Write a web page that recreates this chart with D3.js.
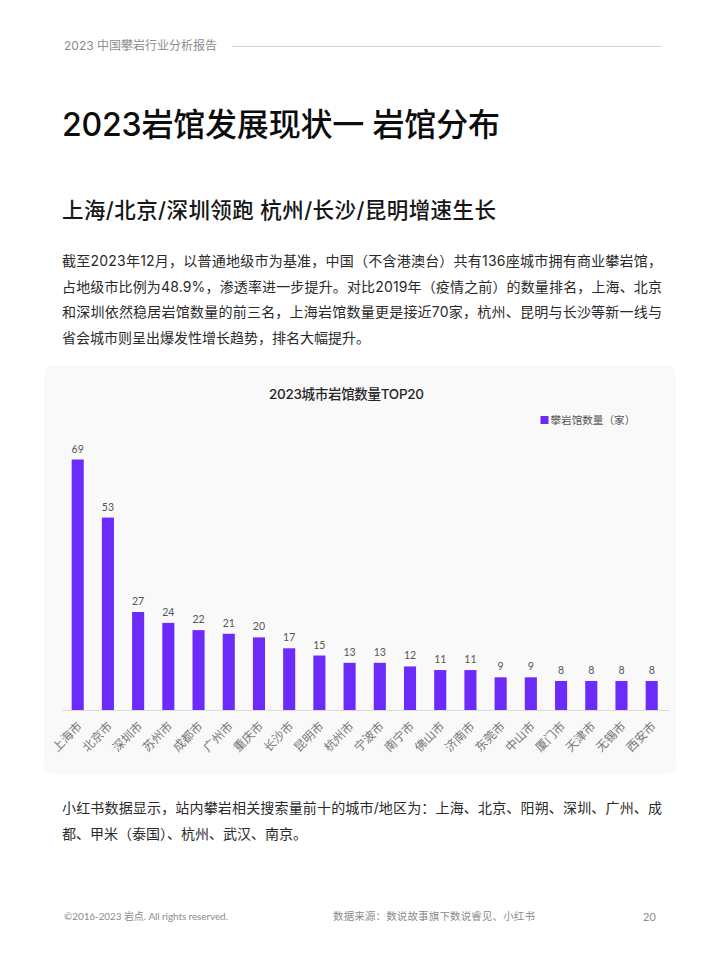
<!DOCTYPE html>
<html>
<head>
<meta charset="utf-8">
<script src="https://cdn.jsdelivr.net/npm/d3@7"></script>
<style>
html, body { margin: 0; padding: 0; background: #fff; }
svg { display: block; }
text { font-family: Inter, "Noto Sans CJK SC", sans-serif; }
</style>
</head>
<body>
<div id="chart"></div>
<script>
var cities = ["上海市","北京市","深圳市","苏州市","成都市","广州市","重庆市","长沙市","昆明市","杭州市",
	"宁波市","南宁市","佛山市","济南市","东莞市","中山市","厦门市","天津市","无锡市","西安市"];
var gym_counts = [69,53,27,24,22,21,20,17,15,13,13,12,11,11,9,9,8,8,8,8];

var header_text = "2023 中国攀岩行业分析报告";
var page_title = "2023岩馆发展现状一 岩馆分布";
var page_subtitle = "上海/北京/深圳领跑 杭州/长沙/昆明增速生长";
var body_lines = [
	"截至2023年12月，以普通地级市为基准，中国（不含港澳台）共有136座城市拥有商业攀岩馆，",
	"占地级市比例为48.9%，渗透率进一步提升。对比2019年（疫情之前）的数量排名，上海、北京",
	"和深圳依然稳居岩馆数量的前三名，上海岩馆数量更是接近70家，杭州、昆明与长沙等新一线与",
	"省会城市则呈出爆发性增长趋势，排名大幅提升。"
];
var note_lines = [
	"小红书数据显示，站内攀岩相关搜索量前十的城市/地区为：上海、北京、阳朔、深圳、广州、成",
	"都、甲米（泰国）、杭州、武汉、南京。"
];
var chart_title = "2023城市岩馆数量TOP20";
var legend_label = "攀岩馆数量（家）";
var footer_left = "©2016-2023 岩点. All rights reserved.";
var footer_mid = "数据来源：数说故事旗下数说睿见、小红书";
var footer_page = "20";

var BAR_COLOR = "#6c2bfb";
var LEFT = 62;
var RIGHT = 662;
var CALIBRI_LIKE = 'Lato, "Noto Sans CJK SC", sans-serif';

var svg = d3.select("#chart").append("svg")
	.attr("width", 720)
	.attr("height", 960);

svg.append("rect")
	.attr("width", 720)
	.attr("height", 960)
	.attr("fill", "#fff");

// page header
svg.append("text")
	.attr("x", 64)
	.attr("y", 50)
	.attr("font-size", 12)
	.attr("textLength", 153)
	.attr("fill", "#8c8c8c")
	.text(header_text);

svg.append("line")
	.attr("x1", 232)
	.attr("x2", 662)
	.attr("y1", 46.5)
	.attr("y2", 46.5)
	.attr("stroke", "#d4d4d4")
	.attr("stroke-width", 1.2);

svg.append("text")
	.attr("x", LEFT)
	.attr("y", 136)
	.attr("font-size", 32)
	.attr("font-weight", 500)
	.attr("textLength", 438)
	.attr("fill", "#0c0c0c")
	.text(page_title);

svg.append("text")
	.attr("x", LEFT)
	.attr("y", 218)
	.attr("font-size", 21.5)
	.attr("font-weight", 500)
	.attr("textLength", 434)
	.attr("fill", "#161616")
	.text(page_subtitle);

function draw_paragraph(lines, top) {
	svg.selectAll(null)
		.data(lines)
		.enter()
		.append("text")
		.attr("x", LEFT)
		.attr("y", (d,i)=> top + i*25.7)
		.attr("font-size", 14)
		.attr("fill", "#2a2a2a")
		.attr("textLength", (d,i)=> i < lines.length-1 ? RIGHT-LEFT : null)
		.text(d=> d);
}

draw_paragraph(body_lines, 266);
draw_paragraph(note_lines, 813);

// chart panel
svg.append("rect")
	.attr("x", 44)
	.attr("y", 365)
	.attr("width", 632)
	.attr("height", 409)
	.attr("rx", 10)
	.attr("fill", "#f9f9f9");

svg.append("text")
	.attr("x", 269)
	.attr("y", 399)
	.attr("font-size", 13.5)
	.attr("font-weight", 500)
	.attr("textLength", 155)
	.attr("fill", "#262626")
	.text(chart_title);

var x = d3.scaleBand()
	.domain(cities)
	.range([62.6, 666.8])
	.paddingInner(0.6)
	.paddingOuter(0.3);

var y = d3.scaleLinear()
	.domain([0, 69])
	.range([710, 459.5]);

svg.selectAll(".bar")
	.data(cities)
	.enter()
	.append("rect")
	.attr("class", "bar")
	.attr("x", d=> x(d))
	.attr("y", (d,i)=> y(gym_counts[i]))
	.attr("width", x.bandwidth())
	.attr("height", (d,i)=> y(0) - y(gym_counts[i]))
	.attr("fill", BAR_COLOR);

svg.selectAll(".bar_label")
	.data(cities)
	.enter()
	.append("text")
	.attr("class", "bar_label")
	.attr("x", d=> x(d) + x.bandwidth()/2)
	.attr("y", (d,i)=> y(gym_counts[i]) - 7)
	.attr("text-anchor", "middle")
	.attr("font-size", 10.5)
	.style("font-family", CALIBRI_LIKE)
	.attr("fill", "#555")
	.text((d,i)=> gym_counts[i]);

var x_axis = svg.append("g")
	.attr("transform", "translate(0,710)")
	.call(d3.axisBottom(x).tickSize(0).tickPadding(0));

x_axis.select(".domain")
	.attr("d", "M62.6,0.5H669")
	.attr("stroke", "#dcdcdc");

x_axis.selectAll("text")
	.attr("font-size", 12)
	.style("font-family", '"Noto Sans CJK SC", sans-serif')
	.attr("fill", "#777")
	.attr("text-anchor", "end")
	.attr("dy", null)
	.attr("y", 0)
	.attr("transform", "translate(5,17) rotate(-45)");

// legend
svg.append("rect")
	.attr("x", 540.5)
	.attr("y", 416)
	.attr("width", 8)
	.attr("height", 8)
	.attr("fill", BAR_COLOR);

svg.append("text")
	.attr("x", 550.5)
	.attr("y", 424)
	.attr("font-size", 10.6)
	.attr("fill", "#555")
	.text(legend_label);

// footer
svg.append("text")
	.attr("x", 64)
	.attr("y", 920)
	.attr("font-size", 10)
	.attr("textLength", 164)
	.style("font-family", CALIBRI_LIKE)
	.attr("fill", "#8c8c8c")
	.text(footer_left);

svg.append("text")
	.attr("x", 333)
	.attr("y", 920)
	.attr("font-size", 10.5)
	.attr("textLength", 202)
	.attr("fill", "#8c8c8c")
	.text(footer_mid);

svg.append("text")
	.attr("x", 643)
	.attr("y", 921)
	.attr("font-size", 11)
	.style("font-family", CALIBRI_LIKE)
	.attr("fill", "#8c8c8c")
	.text(footer_page);
</script>
</body>
</html>
